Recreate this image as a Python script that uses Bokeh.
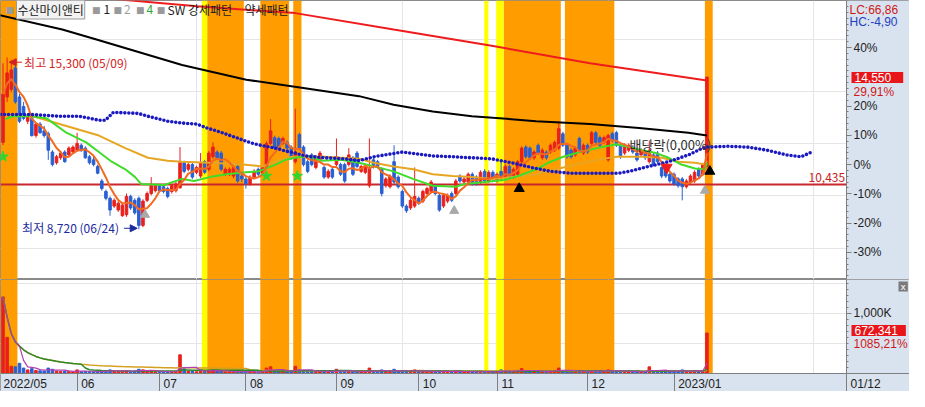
import pandas as pd
from bokeh.plotting import figure
from bokeh.models import (Range1d, LinearAxis, FixedTicker, Span, Label, ColumnDataSource,
                          BoxAnnotation, Arrow, NormalHead, PrintfTickFormatter)
from bokeh.layouts import column
from bokeh.embed import file_html
from bokeh.resources import INLINE

# ---------------- data (trading-day index, first visible candle = 3) ----------------
FIRST_INDEX = 3
opens = [12050, 13790, 14080, 14900, 13790, 13420, 12860, 12970, 12310, 12750,
         12490, 12380, 11680, 11270, 11460, 11680, 11570, 11680, 11750, 11940,
         11830, 11500, 11380, 11130, 10570, 10170, 9910, 9610, 9460, 9240,
         9280, 9980, 9830, 9910, 8870, 9830, 10090, 10200, 10390, 10350,
         10280, 10170, 10200, 10310, 11270, 11020, 11200, 10900, 10760, 11310,
         11020, 11500, 11680, 11640, 10830, 10830, 10760, 11130, 10760, 10650,
         10460, 10720, 11020, 10900, 11090, 12010, 12230, 12200, 12010, 12050,
         11870, 11310, 12350, 11870, 11310, 11570, 11090, 11380, 11090, 10720,
         11020, 11200, 11200, 11200, 11200, 11460, 11640, 10940, 10900, 10390,
         11380, 11310, 11020, 10390, 10350, 11310, 10720, 10170, 9610, 9540,
         9610, 9910, 9800, 10090, 10170, 10390, 10020, 9610, 9800, 10090,
         10090, 10760, 10530, 10530, 10830, 10720, 10530, 10940, 10570, 10900,
         10570, 10940, 10720, 11130, 10720, 10830, 11310, 11870, 11830, 11460,
         11940, 11460, 11680, 11680, 11750, 11830, 12380, 11940, 11750, 11570,
         12200, 11640, 11940, 12010, 12420, 12230, 12050, 11380, 12380, 12420,
         11940, 11640, 11750, 11870, 11640, 11570, 11680, 11310, 11570, 11640,
         11090, 11020, 10830, 10830, 10650, 10650, 10350, 10530, 10570, 11020,
         10830, 11130]
highs = [15080, 15300, 15190, 15040, 13900, 13600, 13120, 13050, 12830, 12830,
         12680, 12460, 11750, 11570, 11720, 11750, 11900, 11940, 12420, 12010,
         11900, 11570, 11530, 11200, 10650, 10240, 9980, 9910, 9800, 9720,
         10090, 10050, 9910, 9980, 9870, 10170, 10720, 10460, 10460, 10420,
         10350, 10460, 10530, 11870, 11350, 11270, 11270, 11160, 11640, 11380,
         11720, 12050, 11750, 11720, 11090, 11090, 11160, 11200, 10830, 10720,
         10790, 11020, 11090, 11160, 12090, 12940, 12310, 12270, 12270, 12120,
         11940, 13340, 12420, 11940, 11380, 11640, 11570, 11720, 11160, 11020,
         11090, 12200, 11270, 11270, 11830, 11530, 11720, 11200, 11200, 12200,
         11460, 11380, 11090, 10720, 10830, 11940, 10790, 10240, 9680, 9910,
         11090, 9980, 10240, 10350, 10610, 10460, 10090, 10090, 10090, 10170,
         10650, 10830, 10720, 10900, 10900, 10790, 10980, 11020, 10980, 10980,
         10900, 11310, 11200, 11200, 11090, 11380, 11900, 11940, 11900, 11750,
         12010, 11830, 11750, 12010, 12120, 12860, 12460, 12010, 11830, 11900,
         12270, 12010, 12010, 12490, 12490, 12310, 12310, 12380, 12460, 12490,
         12010, 12010, 12010, 11940, 11720, 11830, 11750, 12120, 11640, 11720,
         11130, 11090, 10900, 10900, 10720, 10720, 10650, 10830, 10980, 11090,
         11270, 14550]
lows = [11940, 13600, 13970, 13530, 12790, 12900, 12750, 12270, 12230, 12380,
        12230, 11380, 11130, 11200, 11380, 11270, 11500, 11640, 11720, 11680,
        11420, 11200, 11130, 10830, 10200, 9830, 9240, 9540, 9390, 9200,
        9200, 9460, 9280, 8720, 8800, 9760, 10020, 10130, 10130, 10090,
        9910, 10090, 10130, 10280, 10870, 10940, 10650, 10830, 10680, 10830,
        10940, 11420, 11380, 10940, 10760, 10760, 10680, 10500, 10530, 10280,
        10390, 10650, 10760, 10830, 11020, 11940, 11750, 11750, 11940, 11750,
        11380, 11240, 11750, 11130, 10870, 11130, 11020, 11310, 10650, 10650,
        10650, 11130, 10760, 10500, 11130, 10760, 11050, 10870, 10830, 10310,
        11050, 11050, 9980, 10310, 10280, 10460, 10280, 9540, 9350, 9460,
        9540, 9650, 9720, 10020, 10090, 10020, 9390, 9540, 9720, 9760,
        10020, 10500, 10460, 10460, 10390, 10390, 10460, 10500, 10500, 10570,
        10500, 10570, 10650, 10680, 10650, 10760, 11240, 11420, 11380, 11380,
        11570, 11380, 11380, 11610, 11680, 11750, 11870, 11420, 11420, 11500,
        11680, 11570, 11610, 11940, 11980, 11870, 11980, 11310, 12050, 11870,
        11420, 11570, 11680, 11610, 11310, 11500, 11380, 11240, 11130, 11240,
        10680, 10680, 10500, 10390, 10310, 9830, 10280, 10460, 10500, 10680,
        10760, 11050]
closes = [13900, 14710, 14820, 13600, 12860, 12970, 13050, 12310, 12750, 12420,
          12310, 11750, 11200, 11500, 11640, 11310, 11830, 11870, 12010, 11750,
          11460, 11270, 11200, 10870, 10280, 9910, 9460, 9830, 9720, 9650,
          9980, 9540, 9350, 8870, 9800, 10090, 10390, 10390, 10200, 10170,
          9980, 10390, 10460, 11270, 10940, 11200, 10720, 11090, 11270, 10900,
          11640, 11870, 11460, 11020, 11020, 11020, 11090, 10570, 10650, 10460,
          10720, 10940, 10830, 11090, 12010, 12490, 11830, 11830, 12200, 11830,
          11460, 11680, 11830, 11200, 10940, 11200, 11500, 11640, 10720, 10940,
          10720, 11500, 10830, 10570, 11570, 10830, 11130, 11130, 11130, 11090,
          11130, 11130, 10090, 10650, 10760, 10530, 10350, 9610, 9430, 9830,
          9980, 9720, 10170, 10280, 10530, 10090, 9460, 10020, 10020, 9830,
          10570, 10570, 10650, 10830, 10460, 10460, 10900, 10570, 10900, 10650,
          10830, 10650, 11130, 10760, 11020, 11310, 11830, 11500, 11460, 11680,
          11640, 11750, 11460, 11940, 12050, 12570, 11940, 11500, 11500, 11830,
          11750, 11940, 11680, 12420, 12050, 11940, 12230, 12310, 12120, 11940,
          11500, 11940, 11940, 11680, 11380, 11750, 11460, 11750, 11200, 11310,
          10760, 10760, 10570, 10460, 10390, 10350, 10570, 10760, 10900, 10760,
          11200, 14550]
volumes = [1270000, 600000, 120000, 110000, 170000, 90000, 60000, 80000, 50000, 45000,
           40000, 90000, 70000, 40000, 35000, 40000, 35000, 30000, 60000, 30000,
           35000, 30000, 30000, 35000, 40000, 45000, 60000, 40000, 35000, 40000,
           50000, 35000, 40000, 70000, 60000, 40000, 50000, 30000, 30000, 25000,
           30000, 30000, 35000, 310000, 80000, 40000, 40000, 30000, 60000, 35000,
           50000, 60000, 40000, 40000, 25000, 25000, 30000, 40000, 25000, 30000,
           25000, 30000, 25000, 25000, 90000, 110000, 50000, 40000, 30000, 30000,
           35000, 120000, 60000, 50000, 40000, 35000, 35000, 40000, 35000, 30000,
           30000, 70000, 35000, 40000, 45000, 35000, 30000, 25000, 25000, 90000,
           35000, 25000, 60000, 35000, 35000, 70000, 35000, 50000, 40000, 35000,
           60000, 30000, 35000, 30000, 35000, 30000, 45000, 35000, 30000, 30000,
           50000, 30000, 25000, 30000, 30000, 25000, 35000, 30000, 30000, 25000,
           30000, 60000, 45000, 35000, 35000, 50000, 80000, 45000, 40000, 35000,
           40000, 35000, 30000, 40000, 45000, 90000, 50000, 40000, 35000, 35000,
           45000, 35000, 30000, 50000, 40000, 35000, 35000, 60000, 40000, 40000,
           40000, 35000, 30000, 30000, 35000, 30000, 30000, 110000, 45000, 35000,
           45000, 40000, 40000, 35000, 35000, 60000, 40000, 35000, 40000, 35000,
           50000, 672341]

prev_close = 11200          # 0 % line of the right axis
support_level = 10435

# long moving averages / cloud line (index, price)
black_idx = [2, 17.4, 25.5, 46.5, 62.1, 74.7, 89.5, 97.9, 107.4, 116.9, 126.5, 132.5, 145.6, 157.5, 169.5, 174]
black_val = [16930, 16370, 16000, 15010, 14450, 14160, 13820, 13490, 13230, 13050, 12940, 12860, 12750, 12600, 12420, 12310]
red_idx = [28.6, 50.1, 74, 97.9, 121.7, 145.6, 174]
red_val = [17560, 17260, 17000, 16370, 15750, 15080, 14420]
green_idx = [3.6, 5.3, 9.5, 13.6, 18.4, 23.2, 26.3, 29.4, 32.7, 35.1, 36.5, 42.2, 46.5, 49.4, 53.2, 57.3,
             61.3, 65.1, 67.5, 69.2, 71.6, 74, 77.1, 80.4, 85.2, 89.5, 93.1, 97.9, 102.6, 107.4, 112.9,
             115.3, 120, 124.8, 128.2, 132.5, 136, 139.1, 143.2, 147.3, 152, 155.1, 158.2, 161.6, 164.7,
             167.8, 171.1, 173.5, 174]
green_val = [12940, 13050, 13050, 12970, 12420, 12050, 11680, 11310, 11020, 10720, 10460, 10420, 10650,
             10570, 10720, 10830, 10900, 10940, 11090, 11200, 11380, 11460, 11530, 11350, 11380, 11270,
             11130, 10940, 10650, 10390, 10350, 10460, 10530, 10610, 10760, 11020, 11310, 11500, 11680,
             11830, 11980, 11870, 11750, 11640, 11460, 11200, 11050, 11020, 11270]
gold_idx = [3, 10.3, 18.4, 26.3, 32.7, 38.2, 43, 46.5, 53.2, 61.3, 66.1, 69.2, 73.3, 77.1, 81.1, 89.5,
            93.1, 97.9, 102.6, 107.4, 112.2, 116.9, 121.7, 126.5, 132.5, 139.1, 147.3, 152, 158.2, 163,
            167.1, 171.1, 173.5, 174]
gold_val = [13100, 13050, 12680, 12310, 11830, 11460, 11350, 11310, 11270, 11200, 11130, 11310, 11500,
            11500, 11500, 11420, 11270, 11130, 11020, 10830, 10760, 10720, 10650, 10720, 10830, 11090,
            11380, 11500, 11500, 11460, 11310, 11270, 11200, 11350]
cloud_idx = [2.4, 9.5, 16.7, 21.5, 26.3, 27.9, 29.8, 35.8, 38.2, 43, 46.5, 50.1, 52.5, 54.9, 59.7, 62.1,
             64.4, 66.8, 69.2, 71.6, 74, 76.4, 81.1, 85.9, 89.5, 93.1, 100, 107.4, 112.2, 116.9, 121.7,
             126.5, 131.3, 136, 140.8, 152.7, 155.1, 159.9, 164.7, 169.5, 173, 174.2, 179, 183.8, 188.6,
             193.3, 196.9, 199.5]
cloud_val = [13120, 13120, 13050, 13050, 12900, 12900, 13200, 13160, 13050, 12860, 12790, 12750, 12600,
             12490, 12230, 12090, 11980, 11900, 11830, 11720, 11640, 11530, 11460, 11420, 11350, 11500,
             11680, 11530, 11500, 11460, 11420, 11270, 11090, 10940, 10870, 10870, 10940, 11130, 11310,
             11570, 11830, 11870, 11900, 11870, 11750, 11570, 11500, 11680]

# pattern bands (index ranges)
strong_bands = [(2.4, 6.5), (52.6, 61.5), (65.5, 72.5), (73.5, 75.5), (124.6, 138.5), (139.5, 151.5), (173.5, 175.4)]
weak_bands = [(51.3, 52.6), (119.9, 120.9), (122.8, 124.6)]

# signal markers
star_idx, star_val = [3, 67, 74.5], [11500, 10760, 10760]
grey_up_idx, grey_up_val = [37.5, 112.6, 173.5], [9280, 9430, 10200]
black_up_idx, black_up_val = [128.4, 174.7], [10280, 10940]
red_dn_idx, red_dn_val = [164.2], [11090]

month_starts = [21, 41, 62, 84, 104, 123, 145, 166]
month_labels = ["06", "07", "08", "09", "10", "11", "12", "2023/01"]
first_label = "2022/05"
cursor_label = "01/12"

# ---------------- layout constants ----------------
W = 909
FRAME_W = 846                      # width of the chart area left of the right scale
H_PRICE = 279
H_VOL = 112
BAND_PX = 18                       # date band under the volume panel
VOL_PX = H_VOL - BAND_PX
VOL_TOP = 1560000
X_START, X_AXIS = 2.39, 207.9      # x at left edge / at the right scale line
PX_PER_IDX = FRAME_W / (X_AXIS - X_START)
X_END = X_START + W / PX_PER_IDX
PCT_TOP, PCT_BOTTOM = 56.1, -39.3
STRIP = "#d9e3ef"
RED = "#e8211d"
BLUE = "#2a5fd2"
KR = "Noto Sans CJK KR"

n = len(closes)
idx = list(range(FIRST_INDEX, FIRST_INDEX + n))
colors = [RED if c >= o else BLUE for o, c in zip(opens, closes)]
src = ColumnDataSource(dict(
    x=idx, o=opens, h=highs, l=lows, c=closes,
    top=[max(o, c) for o, c in zip(opens, closes)],
    bottom=[min(o, c) for o, c in zip(opens, closes)],
    color=colors, vol=volumes))

ma5 = pd.Series(closes).rolling(5, min_periods=1).mean()
vs = pd.Series(volumes)
vma5 = vs.rolling(5, min_periods=1).mean()
vma20 = vs.rolling(20, min_periods=1).mean()
vma60 = vs.rolling(60, min_periods=1).mean()

xr = Range1d(X_START, X_END)


def add_bands(fig, bottom=None):
    for a, b in strong_bands:
        fig.add_layout(BoxAnnotation(left=a, right=b, bottom=bottom, fill_color="#ff9c00", fill_alpha=1.0,
                                     line_alpha=0, level="underlay"))
    for a, b in weak_bands:
        fig.add_layout(BoxAnnotation(left=a, right=b, bottom=bottom, fill_color="#ffff00", fill_alpha=1.0,
                                     line_alpha=0, level="underlay"))


def lab(fig, text, sx, sy, color, size="12px", font=KR, **kw):
    fig.add_layout(Label(x=sx, y=sy, x_units="screen", y_units="screen", text=text,
                         text_color=color, text_font_size=size, text_font=font,
                         text_baseline="middle", **kw))


axis_style = dict(axis_line_color="#7f7f7f", major_tick_line_color="#7f7f7f",
                  minor_tick_line_color="#7f7f7f", major_tick_out=5, major_tick_in=0,
                  minor_tick_out=2, minor_tick_in=0, major_label_standoff=2,
                  major_label_text_font_size="12px", major_label_text_color="#222222",
                  major_label_text_font="Liberation Sans")

# ---------------- price panel ----------------
p = figure(width=W, height=H_PRICE, x_range=xr,
           y_range=Range1d(prev_close * (1 + PCT_BOTTOM / 100), prev_close * (1 + PCT_TOP / 100)),
           output_backend="svg", toolbar_location=None,
           x_axis_location=None, y_axis_location=None,
           min_border_left=0, min_border_right=0, min_border_top=0, min_border_bottom=0,
           background_fill_color="white", border_fill_color=STRIP, outline_line_color="#8a8a8a")
p.extra_y_ranges = {"pct": Range1d(PCT_BOTTOM, PCT_TOP)}

add_bands(p)
p.add_layout(Span(location=support_level, dimension="width", line_color="#c8282d", line_width=2,
                  level="underlay"))
p.add_layout(BoxAnnotation(left=X_AXIS, fill_color=STRIP, fill_alpha=1.0, line_alpha=0, level="underlay"))

pax = LinearAxis(y_range_name="pct", fixed_location=X_AXIS,
                 ticker=FixedTicker(ticks=[-30, -20, -10, 0, 10, 20, 40],
                                    minor_ticks=list(range(-38, 57, 2))),
                 formatter=PrintfTickFormatter(format="%d%%"), **axis_style)
p.add_layout(pax, "right")

p.segment(x0="x", y0="l", x1="x", y1="h", color="color", line_width=1, source=src)
p.vbar(x="x", width=0.62, top="top", bottom="bottom", fill_color="color", line_color="color",
       line_width=1, source=src)

p.line(black_idx, black_val, line_color="black", line_width=2)
p.line(red_idx, red_val, line_color="#ee1c1c", line_width=2)
p.line(gold_idx, gold_val, line_color="#e6a623", line_width=2)
p.line(green_idx, green_val, line_color="#3fdc2a", line_width=2)
p.line(idx, list(ma5), line_color="#f26a1f", line_width=2)
p.line(cloud_idx, cloud_val, line_color="#1a1ac0", line_width=3.6, line_dash="0 4", line_cap="round")

p.scatter(star_idx, star_val, marker="star", size=11, fill_color="#2fd62f", line_color="#2fd62f")
p.scatter(grey_up_idx, grey_up_val, marker="triangle", size=9, fill_color="#a9a9a9", line_color="#a9a9a9")
p.scatter(black_up_idx, black_up_val, marker="triangle", size=10, fill_color="black", line_color="black")
p.scatter(red_dn_idx, red_dn_val, marker="inverted_triangle", size=11, fill_color="#ee1c1c", line_color="#ee1c1c")

p.add_layout(Arrow(x_start=7.6, y_start=15120, x_end=4.5, y_end=15120, line_color="#d42020", line_width=1,
                   end=NormalHead(size=7, fill_color="#d42020", line_color="#d42020")))
p.add_layout(Arrow(x_start=32.4, y_start=8760, x_end=35.6, y_end=8760, line_color="#1c2aa0", line_width=1,
                   end=NormalHead(size=7, fill_color="#1c2aa0", line_color="#1c2aa0")))

lab(p, "최고 15,300 (05/09)", 23.6, 217, "#d42020")
lab(p, "최저 8,720 (06/24)", 21.6, 52, "#1c2aa0")
lab(p, "배당락(0,00%)", 629, 135, "#303030", size="13px")
lab(p, "10,435", 808, 102, "#c82020")

# legend row
for sx in [4.9, 91.4, 113.0, 135.6, 156.2]:
    lab(p, "■", sx, 270, "#9a9a9a", size="9px", font="DejaVu Sans")
lab(p, "수산마이앤티", 16, 270, "#202020", background_fill_color="#f2f2f2",
    border_line_color="#9a9a9a", padding=1)
lab(p, "1", 103, 270, "#202020")
lab(p, "2", 123.5, 270, "#a0a0a0")
lab(p, "4", 146, 270, "#2ca82c")
lab(p, "SW 강세패턴", 167, 270, "#202020")
lab(p, "약세패턴", 244, 270, "#202020")

# right strip texts
lab(p, "LC:66,86", 849, 270, "#d01818", font="Liberation Sans")
lab(p, "HC:-4,90", 849, 258, "#1f3fbf", font="Liberation Sans")
lab(p, "14,550", 851, 202, "white", font="Liberation Sans", background_fill_color="#e8161b",
    padding=dict(left=3, right=12, top=1, bottom=1))
lab(p, "29,91%", 853, 188, "#d01818", font="Liberation Sans")

# ---------------- volume panel (frame includes the date band below y=0) ----------------
vol_bottom = -VOL_TOP * BAND_PX / VOL_PX
pv = figure(width=W, height=H_VOL, x_range=xr, y_range=Range1d(vol_bottom, VOL_TOP),
            output_backend="svg", toolbar_location=None,
            x_axis_location=None, y_axis_location=None,
            min_border_left=0, min_border_right=0, min_border_top=0, min_border_bottom=0,
            background_fill_color="white", border_fill_color=STRIP, outline_line_color="#8a8a8a")
add_bands(pv, bottom=0)
pv.add_layout(BoxAnnotation(left=X_AXIS, fill_color=STRIP, fill_alpha=1.0, line_alpha=0, level="underlay"))
pv.add_layout(BoxAnnotation(top=0, fill_color=STRIP, fill_alpha=1.0, line_alpha=0, level="underlay"))
pv.vbar(x="x", width=0.62, top="vol", bottom=0, fill_color="color", line_color="color", source=src)
pv.line(idx, list(vma60), line_color="#d4a020", line_width=1.5)
pv.line(idx, list(vma20), line_color="#2a8a2a", line_width=1.5)
pv.line(idx, list(vma5), line_color="#b040b0", line_width=1.2)

vax = LinearAxis(fixed_location=X_AXIS,
                 ticker=FixedTicker(ticks=[1000000], minor_ticks=list(range(0, VOL_TOP + 1, 100000))),
                 major_label_overrides={1000000: "1,000K"}, **axis_style)
pv.add_layout(vax, "right")

centers = [round(X_START + 24.7 / PX_PER_IDX, 3)]
labels = [first_label]
for m, t in zip(month_starts + [X_AXIS], month_labels + [cursor_label]):
    half = (6.7 * sum(ch.isdigit() for ch in t) + 3.4 * t.count("/")) / 2
    centers.append(round(m + (4 + half) / PX_PER_IDX, 3))
    labels.append(t)
xax = LinearAxis(fixed_location=0,
                 ticker=FixedTicker(ticks=centers, minor_ticks=month_starts + [X_AXIS]),
                 major_label_overrides={c: t for c, t in zip(centers, labels)},
                 axis_line_color="#7f7f7f", major_tick_out=0, major_tick_in=0,
                 minor_tick_line_color="#7f7f7f", minor_tick_out=BAND_PX, minor_tick_in=0,
                 major_label_standoff=-15, major_label_text_font_size="12px",
                 major_label_text_color="#222222", major_label_text_font="Liberation Sans")
pv.add_layout(xax, "below")

lab(pv, "672,341", 851, 43 + BAND_PX, "white", font="Liberation Sans", background_fill_color="#e8161b",
    padding=dict(left=3, right=8, top=1, bottom=1))
lab(pv, "1085,21%", 853, 30 + BAND_PX, "#d01818", font="Liberation Sans")
lab(pv, "x", 898, 87 + BAND_PX, "white", size="9px", font="DejaVu Sans", background_fill_color="#7a7a7a",
    padding=dict(left=2, right=2, top=0, bottom=0))

layout = column(p, pv, spacing=0)
open("out.html", "w").write(file_html(layout, INLINE))
